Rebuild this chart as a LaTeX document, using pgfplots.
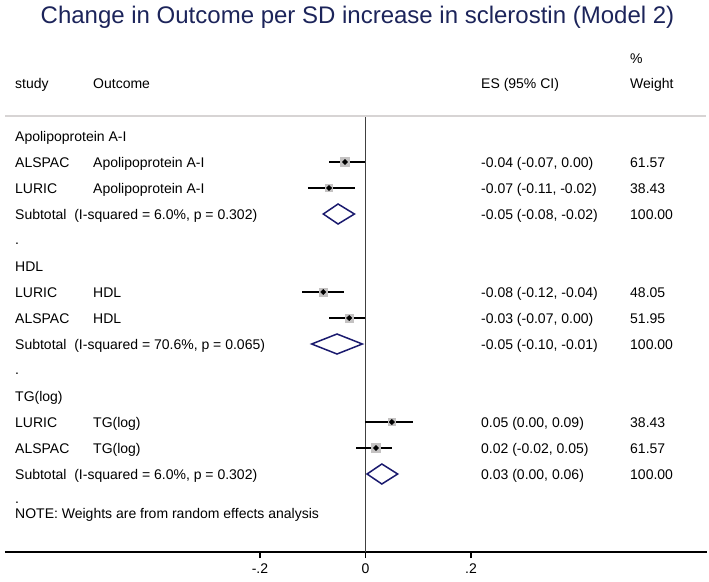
\documentclass[border=0pt]{standalone}
\usepackage{pgfplots}
\pgfplotsset{compat=1.18}
\usepackage{pgfplotstable}
\usepackage{fontspec}
\setmainfont{Liberation Sans}
\definecolor{titleblue}{RGB}{28,36,90}
\definecolor{diamondblue}{RGB}{26,26,110}
\definecolor{sqgray}{RGB}{196,194,194}
\definecolor{linegray}{RGB}{215,212,212}

% study rows: y (px, negative down), effect size, CI
\pgfplotstableread{
y     es      lo      hi
-162  -0.039  -0.069  0.000
-188  -0.069  -0.109  -0.020
-292  -0.080  -0.120  -0.040
-318  -0.031  -0.069  0.000
-422  0.050   0.000   0.090
-448  0.020   -0.018  0.050
}\studies

\begin{document}
\begin{tikzpicture}[x=1pt,y=1pt]
\begin{axis}[
  at={(5pt,-552pt)}, anchor=south west,
  scale only axis, width=702pt, height=436pt,
  xmin=-0.6834, xmax=0.6474, ymin=-552, ymax=-116,
  axis x line*=bottom, axis y line=none,
  axis line style={black, line width=1.1pt},
  xtick={-0.2,0,0.2}, xticklabels={-.2,0,.2},
  tick align=outside, major tick length=6pt,
  tick style={black, line width=1.1pt},
  xticklabel style={font=\fontsize{14}{16}\selectfont, yshift=-2pt},
  /pgf/number format/assume math mode=true,
  clip=false,
]
% reference line at 0
\addplot[black!75, line width=1.1pt] coordinates {(0,-116) (0,-552)};
% weight squares (area proportional to weight)
\addplot[only marks, mark=square*, mark size=4.6pt, sqgray] coordinates {(-0.039,-162)};
\addplot[only marks, mark=square*, mark size=3.6pt, sqgray] coordinates {(-0.069,-188)};
\addplot[only marks, mark=square*, mark size=4.1pt, sqgray] coordinates {(-0.080,-292)};
\addplot[only marks, mark=square*, mark size=4.2pt, sqgray] coordinates {(-0.031,-318)};
\addplot[only marks, mark=square*, mark size=3.6pt, sqgray] coordinates {(0.050,-422)};
\addplot[only marks, mark=square*, mark size=4.6pt, sqgray] coordinates {(0.020,-448)};
% confidence intervals
\addplot[black, line width=1.5pt] coordinates {(-0.069,-162) (0.000,-162)};
\addplot[black, line width=1.5pt] coordinates {(-0.109,-188) (-0.020,-188)};
\addplot[black, line width=1.5pt] coordinates {(-0.120,-292) (-0.040,-292)};
\addplot[black, line width=1.5pt] coordinates {(-0.069,-318) (0.000,-318)};
\addplot[black, line width=1.5pt] coordinates {(0.000,-422) (0.090,-422)};
\addplot[black, line width=1.5pt] coordinates {(-0.018,-448) (0.050,-448)};
% point estimates
\addplot[only marks, mark=diamond*, mark size=2.6pt, black, mark options={xscale=1.35, fill=black, draw=black}] table[x=es, y=y] {\studies};
% subtotal diamonds
\addplot[diamondblue, line width=1.5pt] coordinates {(-0.080,-214) (-0.052,-204) (-0.021,-214) (-0.052,-224) (-0.080,-214)} -- cycle;
\addplot[diamondblue, line width=1.5pt] coordinates {(-0.102,-344) (-0.054,-334) (-0.006,-344) (-0.054,-354) (-0.102,-344)} -- cycle;
\addplot[diamondblue, line width=1.5pt] coordinates {(0.003,-474) (0.031,-464) (0.061,-474) (0.031,-484) (0.003,-474)} -- cycle;
\end{axis}

% top separator line
\draw[linegray, line width=1.2pt] (5,-116) -- (706,-116);

% title
\node[anchor=base, inner sep=0pt, text=titleblue, font=\fontsize{24}{28}\selectfont] at (357.5,-23) {Change in Outcome per SD increase in sclerostin (Model 2)};

\begin{scope}[every node/.style={anchor=base west, inner sep=0pt, font=\fontsize{14}{16}\selectfont}]
% header
\node at (630,-63) {\%};
\node at (15,-88) {study};
\node at (93,-88) {Outcome};
\node at (481,-88) {ES (95\% CI)};
\node at (630,-88) {Weight};
% group 1
\node at (15,-141) {Apolipoprotein A-I};
\node at (15,-167) {ALSPAC};  \node at (93,-167) {Apolipoprotein A-I};
\node at (481,-167) {-0.04 (-0.07, 0.00)}; \node at (630,-167) {61.57};
\node at (15,-193) {LURIC};   \node at (93,-193) {Apolipoprotein A-I};
\node at (481,-193) {-0.07 (-0.11, -0.02)}; \node at (630,-193) {38.43};
\node at (15,-219) {Subtotal\ \ (I-squared = 6.0\%, p = 0.302)};
\node at (481,-219) {-0.05 (-0.08, -0.02)}; \node at (630,-219) {100.00};
\node at (15,-244) {.};
% group 2
\node at (15,-271) {HDL};
\node at (15,-297) {LURIC};   \node at (93,-297) {HDL};
\node at (481,-297) {-0.08 (-0.12, -0.04)}; \node at (630,-297) {48.05};
\node at (15,-323) {ALSPAC};  \node at (93,-323) {HDL};
\node at (481,-323) {-0.03 (-0.07, 0.00)}; \node at (630,-323) {51.95};
\node at (15,-349) {Subtotal\ \ (I-squared = 70.6\%, p = 0.065)};
\node at (481,-349) {-0.05 (-0.10, -0.01)}; \node at (630,-349) {100.00};
\node at (15,-374) {.};
% group 3
\node at (15,-401) {TG(log)};
\node at (15,-427) {LURIC};   \node at (93,-427) {TG(log)};
\node at (481,-427) {0.05 (0.00, 0.09)}; \node at (630,-427) {38.43};
\node at (15,-453) {ALSPAC};  \node at (93,-453) {TG(log)};
\node at (481,-453) {0.02 (-0.02, 0.05)}; \node at (630,-453) {61.57};
\node at (15,-479) {Subtotal\ \ (I-squared = 6.0\%, p = 0.302)};
\node at (481,-479) {0.03 (0.00, 0.06)}; \node at (630,-479) {100.00};
\node at (15,-503) {.};
\node at (15,-518) {NOTE: Weights are from random effects analysis};
\end{scope}

\pgfresetboundingbox
\useasboundingbox (0,0) rectangle (709,-581);
\end{tikzpicture}
\end{document}
